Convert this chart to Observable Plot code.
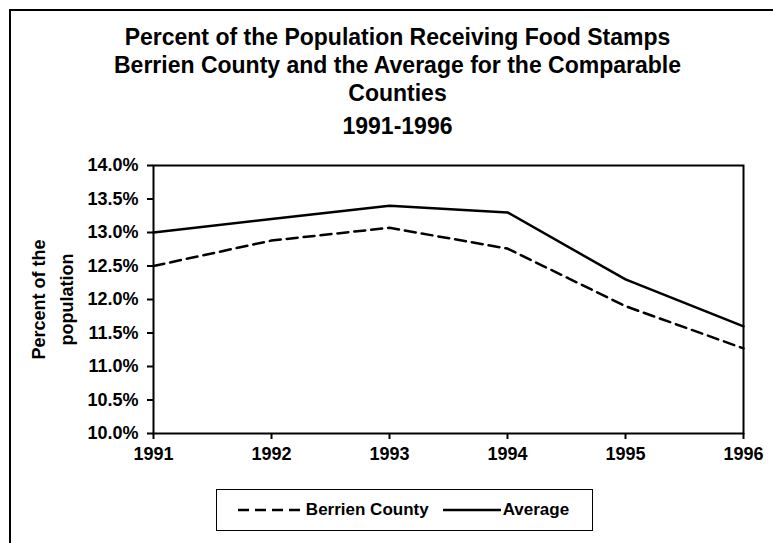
<!DOCTYPE html>
<html>
<head>
<meta charset="utf-8">
<script src="https://cdn.jsdelivr.net/npm/d3@7"></script>
<script src="https://cdn.jsdelivr.net/npm/@observablehq/plot@0.6"></script>
<style>
  html, body { margin: 0; padding: 0; background: #fff; }
  #wrap { position: relative; width: 773px; height: 543px; overflow: hidden; font-family: "Liberation Sans", Arial, sans-serif; font-weight: bold; color: #000; }
  #border { position: absolute; left: 9px; top: 9px; right: -10px; bottom: -10px; border-left: 2px solid #000; border-top: 2px solid #000; }
  #title { position: absolute; left: 0; top: 23px; width: 795px; text-align: center; font-size: 23px; line-height: 28px; }
  #title div.last { margin-top: 5px; }
  #chart { position: absolute; left: 0; top: 0; }
  #legend { position: absolute; left: 216px; top: 489px; width: 377px; height: 42px; border: 1.5px solid #000; box-sizing: border-box; display: flex; align-items: center; justify-content: center; font-size: 17px; white-space: nowrap; }
  #legend svg { display: block; }
  #legend span { margin: 0 2px; }
</style>
</head>
<body>
<div id="wrap">
  <div id="border"></div>
  <div id="chart"></div>
  <div id="title"></div>
  <div id="legend"></div>
</div>
<script>
const titleLines = [
  "Percent of the Population Receiving Food Stamps",
  "Berrien County and the Average for the Comparable",
  "Counties",
  "1991-1996"
];
const years = [1991, 1992, 1993, 1994, 1995, 1996];
const berrien = [12.5, 12.88, 13.07, 12.76, 11.9, 11.27];
const average = [13.0, 13.2, 13.4, 13.3, 12.3, 11.6];
const yTicks = [10.0, 10.5, 11.0, 11.5, 12.0, 12.5, 13.0, 13.5, 14.0];
const seriesNames = ["Berrien County", "Average"];
const yLabel = "Percent of the\npopulation";

const rows = [];
years.forEach((y, i) => {
  rows.push({year: y, value: berrien[i], series: seriesNames[0]});
  rows.push({year: y, value: average[i], series: seriesNames[1]});
});

const plot = Plot.plot({
  width: 773,
  height: 543,
  marginLeft: 153,
  marginRight: 30,
  marginTop: 165,
  marginBottom: 110,
  style: {fontFamily: "'Liberation Sans', Arial, sans-serif", fontWeight: "bold", fontSize: "18px", color: "#000", background: "transparent"},
  x: {domain: [1991, 1996]},
  y: {domain: [10, 14]},
  marks: [
    Plot.frame({stroke: "#000", strokeWidth: 2}),
    Plot.axisY({ticks: yTicks, tickFormat: d => d.toFixed(1) + "%", tickSize: 6, tickPadding: 9, stroke: "#000", strokeWidth: 2, label: null, fill: "#000"}),
    Plot.axisX({ticks: years, tickFormat: d => String(d), tickSize: 6, tickPadding: 8, stroke: "#000", strokeWidth: 2, label: null, fill: "#000"}),
    Plot.text([yLabel], {frameAnchor: "left", textAnchor: "middle", rotate: -90, dx: -103, lineHeight: 1.55, fontSize: 18, fill: "#000"}),
    Plot.line(rows.filter(d => d.series === seriesNames[0]), {x: "year", y: "value", stroke: "#000", strokeWidth: 2.5, strokeDasharray: "11,6"}),
    Plot.line(rows.filter(d => d.series === seriesNames[1]), {x: "year", y: "value", stroke: "#000", strokeWidth: 2.5})
  ]
});
document.getElementById("chart").appendChild(plot);

const t = document.getElementById("title");
titleLines.forEach((s, i) => {
  const d = document.createElement("div");
  d.textContent = s;
  if (i === titleLines.length - 1) d.className = "last";
  t.appendChild(d);
});

const lg = document.getElementById("legend");
function sample(dash) {
  const ns = "http://www.w3.org/2000/svg";
  const s = document.createElementNS(ns, "svg");
  s.setAttribute("width", dash ? 66 : 58);
  s.setAttribute("height", 10);
  const l = document.createElementNS(ns, "line");
  l.setAttribute("x1", 0); l.setAttribute("x2", dash ? 66 : 58);
  l.setAttribute("y1", 5); l.setAttribute("y2", 5);
  l.setAttribute("stroke", "#000"); l.setAttribute("stroke-width", 2.5);
  if (dash) l.setAttribute("stroke-dasharray", "11,6");
  s.appendChild(l);
  return s;
}
seriesNames.forEach((name, i) => {
  lg.appendChild(sample(i === 0));
  const sp = document.createElement("span");
  sp.textContent = name;
  if (i === 0) sp.style.marginRight = "14px";
  lg.appendChild(sp);
});
</script>
</body>
</html>
